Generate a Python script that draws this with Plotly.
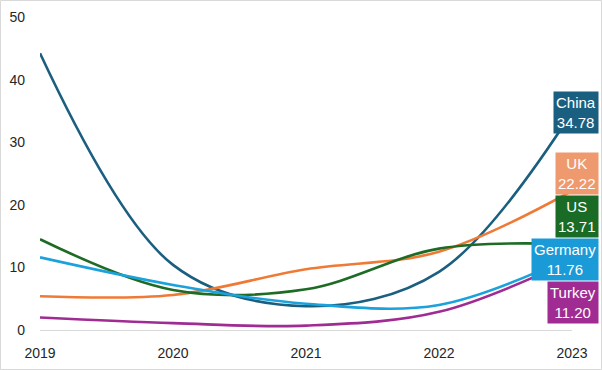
import plotly.graph_objects as go

years = [2019, 2020, 2021, 2022, 2023]
countries = ["China", "UK", "US", "Germany", "Turkey"]
china = [44.2, 10.4, 3.8, 9.3, 34.78]
uk = [5.4, 5.6, 9.7, 12.5, 22.22]
us = [14.5, 6.4, 6.5, 13.0, 13.71]
germany = [11.6, 7.2, 4.2, 4.0, 11.76]
turkey = [2.0, 1.1, 0.7, 2.9, 11.20]
series = [china, uk, us, germany, turkey]
line_colors = ["#1b5f80", "#ef7a35", "#1e6b25", "#1ba1dc", "#a02b93"]
box_colors = ["#1b5f80", "#ef9a6e", "#1a6b25", "#1a9bd7", "#a02b93"]

W, H = 602, 370
L, R, T, B = 40, 30, 17, 40
pw, ph = W - L - R, H - T - B
ymax = 50

fig = go.Figure()
for name, vals, col in zip(countries, series, line_colors):
    fig.add_trace(go.Scatter(x=years, y=vals, mode="lines", name=name,
                             line=dict(color=col, width=2.6, shape="spline", smoothing=1.0),
                             hoverinfo="x+y+name"))

# label placement: de-overlap groups of end labels
box_h = 43 / ph * ymax
ends = sorted([(vals[-1], i) for i, vals in enumerate(series)], reverse=True)
groups = [[e] for e in ends]
changed = True
while changed:
    changed = False
    placed = []
    for g in groups:
        mean = sum(v for v, _ in g) / len(g)
        top = mean + (len(g) - 1) * box_h / 2
        placed.append((g, top))
    for k in range(len(placed) - 1):
        g1, t1 = placed[k]
        g2, t2 = placed[k + 1]
        bottom1 = t1 - (len(g1) - 1) * box_h
        if bottom1 - t2 < box_h:
            groups = groups[:k] + [g1 + g2] + groups[k + 2:]
            changed = True
            break

label_y = {}
for g in groups:
    mean = sum(v for v, _ in g) / len(g)
    top = mean + (len(g) - 1) * box_h / 2
    for j, (v, i) in enumerate(g):
        label_y[i] = top - j * box_h

right_x = (599 - L) / pw
for i, name in enumerate(countries):
    fig.add_annotation(x=right_x, xref="paper", y=label_y[i], yref="y",
                       xanchor="right", yanchor="middle", showarrow=False,
                       text=f"{name}<br>{series[i][-1]:.2f}",
                       font=dict(family="Arial, Liberation Sans, sans-serif", size=15, color="white"),
                       bgcolor=box_colors[i], borderpad=2, align="center")

fig.add_shape(type="rect", xref="paper", yref="paper",
              x0=(0.5 - L) / pw, x1=(601.5 - L) / pw,
              y0=-(B - 0.5) / ph, y1=(ph + T - 0.5) / ph,
              line=dict(color="#d9d9d9", width=1), fillcolor="rgba(0,0,0,0)", layer="below")

fig.update_layout(
    width=W, height=H,
    margin=dict(l=L, r=R, t=T, b=B, autoexpand=False),
    paper_bgcolor="white", plot_bgcolor="white",
    showlegend=False,
    font=dict(family="Arial, Liberation Sans, sans-serif", size=14, color="#262626"),
    xaxis=dict(range=[2019, 2023], tickvals=years, ticktext=[str(y) for y in years],
               showgrid=False, zeroline=False, showline=False, ticks="",
               ticklabelstandoff=13, automargin=False, fixedrange=True),
    yaxis=dict(range=[0, ymax], tickvals=[0, 10, 20, 30, 40, 50],
               showgrid=False, zeroline=True, zerolinecolor="#d9d9d9", zerolinewidth=1.2,
               showline=False, ticks="", ticklabelstandoff=14, automargin=False, fixedrange=True),
)

fig.write_html("out.html", config={"displayModeBar": False},
               post_script="document.body.style.margin='0';document.body.style.overflow='hidden';")
